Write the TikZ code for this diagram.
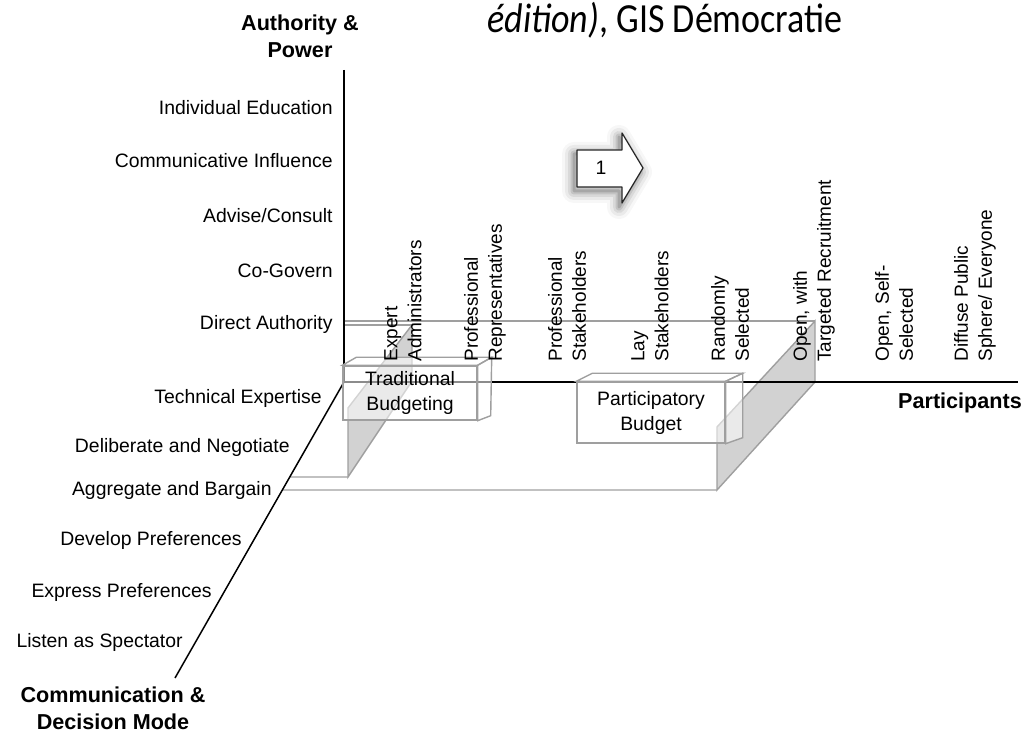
\documentclass[tikz,border=0pt]{standalone}
\usepackage{fontspec}
\setmainfont{Liberation Sans}
\newfontfamily\slidefont{Carlito}
\usetikzlibrary{calc}
\tikzset{
  axislbl/.style={font=\fontsize{9.7}{12}\selectfont, inner sep=0pt, anchor=east},
  partlbl/.style={font=\fontsize{9.5}{12}\selectfont, inner sep=0pt, rotate=90, anchor=west, align=left},
  axistitle/.style={font=\bfseries\fontsize{10.8}{13.5}\selectfont, inner sep=0pt, align=center},
  budgetbox/.style={draw=gray!75, line width=0.7pt, fill=white, fill opacity=0.55, text opacity=1, font=\fontsize{9.7}{12.5}\selectfont, align=center, inner sep=0pt},
  boxface/.style={draw=gray!75, line width=0.7pt, fill=white, fill opacity=0.55},
  greyface/.style={draw=gray!75, line width=0.7pt, fill=gray!35},
  guide/.style={draw=gray!75, line width=0.7pt}
}
\begin{document}
\begin{tikzpicture}[x=0.5pt,y=-0.5pt]
\useasboundingbox (0,0) rectangle (1025,732);
\coordinate (O) at (344,382); \coordinate (top) at (344,70); \coordinate (right) at (1018,382); \coordinate (front) at (175,678);
\coordinate (tA) at (412,325); \coordinate (tB) at (412,381); \coordinate (tC) at (348,477); \coordinate (tD) at (348,408);
\coordinate (pA) at (815,321); \coordinate (pB) at (815,382); \coordinate (pC) at (717,490); \coordinate (pD) at (717,427);

\draw[guide] (344,325) -- (tA); \draw[guide] (344,321) -- (pA);
\draw[guide] ($(O)!0.321!(front)$) -- (tC); \draw[guide] ($(O)!0.365!(front)$) -- (pC);
\filldraw[greyface] (tA) -- (tB) -- (tC) -- (tD) -- cycle;
\filldraw[greyface] (pA) -- (pB) -- (pC) -- (pD) -- cycle;

\draw[line width=0.8pt] (top) -- (O);\draw[line width=1.1pt] (O) -- (right);\draw[line width=0.75pt] (O) -- (front);

\node[budgetbox, minimum width=67pt, minimum height=27pt] (trad) at (410,393) {Traditional\\Budgeting};
\filldraw[boxface] (trad.north west) -- ++(14,-8) -- ($(trad.north east)+(14,-8)$) -- (trad.north east) -- cycle;
\filldraw[boxface] (trad.north east) -- ++(14,-8) -- ($(trad.south east)+(13,-5)$) -- (trad.south east) -- cycle;
\node[budgetbox, minimum width=74pt, minimum height=30.5pt] (part) at (651,412.5) {Participatory\\Budget};
\filldraw[boxface] (part.north west) -- ++(16,-8) -- ($(part.north east)+(17,-8)$) -- (part.north east) -- cycle;
\filldraw[boxface] (part.north east) -- ++(17,-8) -- ($(part.south east)+(17,-6)$) -- (part.south east) -- cycle;

\begin{scope}
  \node[axislbl] (educ) at (333,108) {Individual Education};
  \node[axislbl] (influ) at (333,161) {Communicative Influence};
  \node[axislbl] (advise) at (333,216) {Advise/Consult};
  \node[axislbl] (cogov) at (333,271) {Co-Govern};
  \node[axislbl] (direct) at (333,324) {Direct Authority};
  \node[axislbl] (techn) at (322,398) {Technical Expertise};
  \node[axislbl] (delib) at (290,447) {Deliberate and Negotiate};
  \node[axislbl] (aggr) at (272,490) {Aggregate and Bargain};
  \node[axislbl] (devel) at (242,540) {Develop Preferences};
  \node[axislbl] (expr) at (212,592) {Express Preferences};
  \node[axislbl] (listen) at (183,642) {Listen as Spectator};
\end{scope}
\begin{scope}
  \node[partlbl] (expert) at (403,362) {Expert\\Administrators};
  \node[partlbl] (profrep) at (485,362) {Professional\\Representatives};
  \node[partlbl] (profstake) at (567,362) {Professional\\Stakeholders};
  \node[partlbl] (laystake) at (650,362) {Lay\\Stakeholders};
  \node[partlbl] (random) at (730,362) {Randomly\\Selected};
  \node[partlbl] (target) at (814,362) {Open, with\\Targeted Recruitment};
  \node[partlbl] (selfsel) at (894,362) {Open, Self-\\Selected};
  \node[partlbl] (diffuse) at (975,362) {Diffuse Public\\Sphere/ Everyone};
\end{scope}
\node[axistitle] (authtitle) at (300,36.5) {Authority \&\\Power};
\node[axistitle] (parttitle) at (960,403) {Participants};
\node[axistitle] (commtitle) at (113,708.5) {Communication \&\\Decision Mode};

\foreach \w/\o in {12/0.03,9/0.05,6/0.07,3.5/0.1,1.5/0.14}{\draw[line width=\w pt, black, opacity=\o, line join=round] (574,154) -- (619,154) -- (619,137) -- (640,172) -- (619,207) -- (619,191) -- (574,191) -- cycle;}
\filldraw[fill=white, draw=black!85, line width=0.6pt, line join=round] (577,150) -- (622,150) -- (622,133) -- (643,168) -- (622,203) -- (622,187) -- (577,187) -- cycle;
\node[font=\fontsize{9.7}{12}\selectfont, inner sep=0pt] (one) at (601,168) {1};

\node[anchor=base west, inner sep=0pt, font=\slidefont\fontsize{18}{20}\selectfont] (caption) at (487,33) {\scalebox{1}[1.15]{\textit{édition)}, GIS Démocratie}};
\end{tikzpicture}
\end{document}
